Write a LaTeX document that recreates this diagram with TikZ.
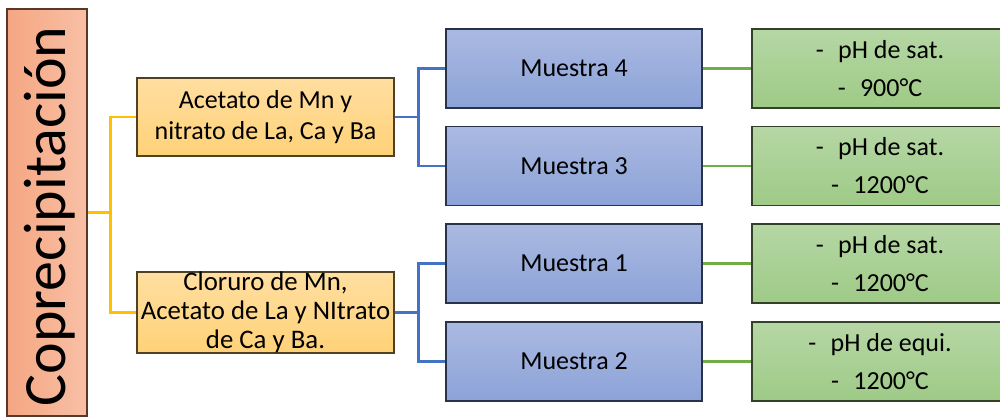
\documentclass[tikz,border=0pt]{standalone}
\usepackage{fontspec}
\setmainfont{Carlito}
\usetikzlibrary{positioning}

\definecolor{salmonT}{RGB}{248,192,166}
\definecolor{salmonB}{RGB}{245,166,130}
\definecolor{salmonD}{RGB}{90,55,40}
\definecolor{goldT}{RGB}{255,222,160}
\definecolor{goldB}{RGB}{255,210,120}
\definecolor{goldD}{RGB}{80,65,35}
\definecolor{blueT}{RGB}{170,185,225}
\definecolor{blueB}{RGB}{140,163,216}
\definecolor{blueD}{RGB}{40,50,75}
\definecolor{greenT}{RGB}{182,215,165}
\definecolor{greenB}{RGB}{158,202,134}
\definecolor{greenD}{RGB}{50,65,40}
\definecolor{linkY}{RGB}{255,192,0}
\definecolor{linkB}{RGB}{68,114,196}
\definecolor{linkG}{RGB}{112,173,71}

\tikzset{
  box/.style={draw, line width=1.1pt, inner sep=0pt, align=center,
    minimum width=256pt, minimum height=79pt, font=\fontsize{26}{31}\selectfont},
  salt/.style={box, draw=goldD, top color=goldT, bottom color=goldB},
  sample/.style={box, draw=blueD, top color=blueT, bottom color=blueB},
  cond/.style={box, draw=greenD, top color=greenT, bottom color=greenB,
    font=\fontsize{26}{38}\selectfont},
  linkA/.style={draw=linkY, line width=2.6pt},
  linkM/.style={draw=linkB, line width=2.6pt},
  linkC/.style={draw=linkG, line width=2.6pt},
}

\begin{document}
\begin{tikzpicture}[x=1pt, y=-1pt]
  \useasboundingbox (0,0) rectangle (1000,417);
  \clip (0,0) rectangle (1000,417);

  % method column
  \node[draw=salmonD, line width=1.1pt, rotate=90, left color=salmonB, right color=salmonT,
        minimum width=407pt, minimum height=80pt, inner sep=0pt] (copre) at (47,212.5) {};
  \node[rotate=90, anchor=base, inner sep=0pt, font=\fontsize{60}{60}\selectfont]
    (coprelabel) at (65,216.5) {Coprecipitación};

  % precursor salts
  \node[salt, minimum width=257pt, minimum height=78pt] (acet) at (265.5,117)
    {Acetato de Mn y\\nitrato de La, Ca y Ba};
  \node[salt, minimum width=257pt, font=\fontsize{26.8}{29}\selectfont] (clor) at (265.5,312.5)
    {Cloruro de Mn,\\Acetato de La y NItrato\\de Ca y Ba.};

  % samples
  \node[sample] (m4) at (574,68.5) {Muestra 4};
  \node[sample] (m3) at (574,166) {Muestra 3};
  \node[sample] (m1) at (574,263.5) {Muestra 1};
  \node[sample] (m2) at (574,361.5) {Muestra 2};

  % synthesis conditions
  \node[cond] (c4) at (880,68.5) {-\hspace{0.55em}pH de sat.\\-\hspace{0.55em}900°C};
  \node[cond] (c3) at (880,166) {-\hspace{0.55em}pH de sat.\\-\hspace{0.55em}1200°C};
  \node[cond] (c1) at (880,263.5) {-\hspace{0.55em}pH de sat.\\-\hspace{0.55em}1200°C};
  \node[cond] (c2) at (880,361.5) {-\hspace{0.55em}pH de equi.\\-\hspace{0.55em}1200°C};

  % connectors
  \draw[linkA] (copre.south) -- ++(23,0) coordinate (jy) |- (acet.west);
  \draw[linkA] (jy) |- (clor.west);

  \draw[linkM] (acet.east) -- ++(24,0) coordinate (ja) |- (m4.west);
  \draw[linkM] (ja) |- (m3.west);
  \draw[linkM] (clor.east) -- ++(24,0) coordinate (jc) |- (m1.west);
  \draw[linkM] (jc) |- (m2.west);

  \draw[linkC] (m4.east) -- (c4.west);
  \draw[linkC] (m3.east) -- (c3.west);
  \draw[linkC] (m1.east) -- (c1.west);
  \draw[linkC] (m2.east) -- (c2.west);
\end{tikzpicture}
\end{document}
